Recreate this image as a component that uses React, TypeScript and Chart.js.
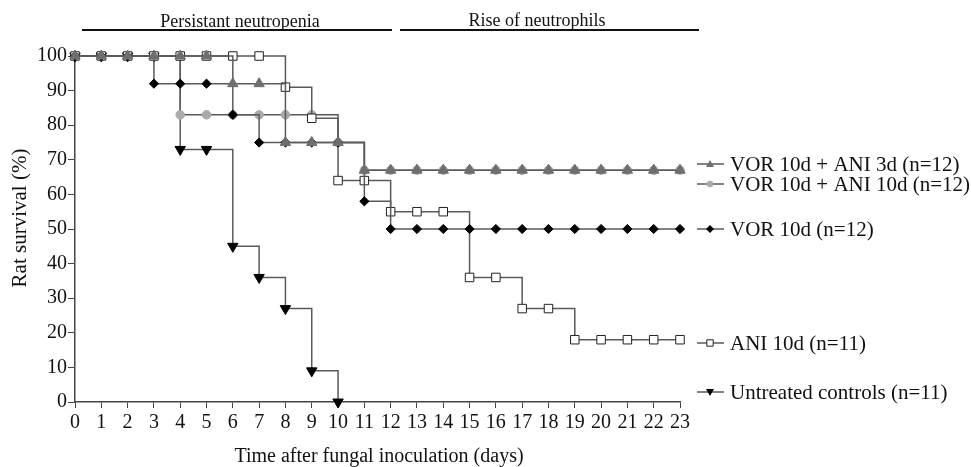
import React, { useEffect, useRef } from 'react';
import { Chart, registerables } from 'chart.js';

Chart.register(...registerables);

const DAYS = [0, 1, 2, 3, 4, 5, 6, 7, 8, 9, 10, 11, 12, 13, 14, 15, 16, 17, 18, 19, 20, 21, 22, 23];
const VOR_ANI3 = [100, 100, 100, 100, 100, 100, 92, 92, 75, 75, 75, 67, 67, 67, 67, 67, 67, 67, 67, 67, 67, 67, 67, 67];
const VOR_ANI10 = [100, 100, 100, 100, 83, 83, 83, 83, 83, 83, 75, 67, 67, 67, 67, 67, 67, 67, 67, 67, 67, 67, 67, 67];
const VOR10 = [100, 100, 100, 92, 92, 92, 83, 75, 75, 75, 75, 58, 50, 50, 50, 50, 50, 50, 50, 50, 50, 50, 50, 50];
const ANI10 = [100, 100, 100, 100, 100, 100, 100, 100, 91, 82, 64, 64, 55, 55, 55, 36, 36, 27, 27, 18, 18, 18, 18, 18];
const UNTREATED = [100, 100, 100, 100, 73, 73, 45, 36, 27, 9, 0];

const LABEL_ANI3 = 'VOR 10d + ANI 3d (n=12)';
const LABEL_ANI10C = 'VOR 10d + ANI 10d (n=12)';
const LABEL_VOR = 'VOR 10d (n=12)';
const LABEL_ANI = 'ANI 10d (n=11)';
const LABEL_UNT = 'Untreated controls (n=11)';

const PHASE1 = 'Persistant neutropenia';
const PHASE2 = 'Rise of neutrophils';
const X_TITLE = 'Time after fungal inoculation (days)';
const Y_TITLE = 'Rat survival (%)';

const FONT = '"Liberation Serif", "Times New Roman", serif';
const LINE = '#5a5a5a';
const TRI_GRAY = '#6e6e6e';
const CIRC_GRAY = '#aaaaaa';

const pts = (arr: number[]) => arr.map((v, i) => ({ x: DAYS[i], y: v }));

function drawMarker(ctx: CanvasRenderingContext2D, kind: string, x: number, y: number, r: number) {
  ctx.beginPath();
  if (kind === 'tri') {
    ctx.moveTo(x, y - r);
    ctx.lineTo(x + r, y + r * 0.75);
    ctx.lineTo(x - r, y + r * 0.75);
    ctx.closePath();
    ctx.fillStyle = TRI_GRAY;
    ctx.fill();
  } else if (kind === 'circ') {
    ctx.arc(x, y, r * 0.8, 0, Math.PI * 2);
    ctx.fillStyle = CIRC_GRAY;
    ctx.fill();
  } else if (kind === 'dia') {
    ctx.moveTo(x, y - r);
    ctx.lineTo(x + r, y);
    ctx.lineTo(x, y + r);
    ctx.lineTo(x - r, y);
    ctx.closePath();
    ctx.fillStyle = '#000';
    ctx.fill();
  } else if (kind === 'sq') {
    ctx.rect(x - r * 0.8, y - r * 0.8, r * 1.6, r * 1.6);
    ctx.fillStyle = '#fff';
    ctx.fill();
    ctx.strokeStyle = '#222';
    ctx.lineWidth = 1;
    ctx.stroke();
  } else if (kind === 'dtri') {
    ctx.moveTo(x, y + r);
    ctx.lineTo(x + r, y - r * 0.75);
    ctx.lineTo(x - r, y - r * 0.75);
    ctx.closePath();
    ctx.fillStyle = '#000';
    ctx.fill();
  }
}

const overlay = {
  id: 'overlay',
  afterDraw(chart: any) {
    const ctx: CanvasRenderingContext2D = chart.ctx;
    ctx.save();
    // phase annotations
    ctx.strokeStyle = '#111';
    ctx.lineWidth = 2;
    ctx.beginPath();
    ctx.moveTo(82, 30);
    ctx.lineTo(392, 30);
    ctx.moveTo(400, 30);
    ctx.lineTo(699, 30);
    ctx.stroke();
    ctx.fillStyle = '#111';
    ctx.font = `18px ${FONT}`;
    ctx.textAlign = 'center';
    ctx.textBaseline = 'alphabetic';
    ctx.fillText(PHASE1, 240, 27);
    ctx.fillText(PHASE2, 537, 26);

    // axis titles
    ctx.font = `20px ${FONT}`;
    ctx.fillText(X_TITLE, 379, 462);
    ctx.font = `21px ${FONT}`;
    ctx.save();
    ctx.translate(26, 218);
    ctx.rotate(-Math.PI / 2);
    ctx.fillText(Y_TITLE, 0, 0);
    ctx.restore();

    // legend
    const items: [string, string, number][] = [
      ['tri', LABEL_ANI3, 164],
      ['circ', LABEL_ANI10C, 184],
      ['dia', LABEL_VOR, 229],
      ['sq', LABEL_ANI, 343],
      ['dtri', LABEL_UNT, 392],
    ];
    ctx.textAlign = 'left';
    ctx.textBaseline = 'middle';
    ctx.font = `21px ${FONT}`;
    for (const [kind, label, y] of items) {
      ctx.strokeStyle = LINE;
      ctx.lineWidth = 1.5;
      ctx.beginPath();
      ctx.moveTo(697, y);
      ctx.lineTo(724, y);
      ctx.stroke();
      drawMarker(ctx, kind, 710, y, 4);
      ctx.fillStyle = '#111';
      ctx.fillText(label, 730, y + 1);
    }
    ctx.restore();
  },
};

export default function App() {
  const ref = useRef<HTMLCanvasElement | null>(null);
  useEffect(() => {
    document.body.style.margin = '0';
    const canvas = ref.current;
    if (!canvas) return;
    const common = {
      borderColor: LINE,
      borderWidth: 1.5,
      stepped: true as const,
      clip: false as const,
      pointBorderWidth: 1,
    };
    const chart = new Chart(canvas, {
      type: 'line',
      data: {
        datasets: [
          {
            ...common,
            label: LABEL_ANI3,
            data: pts(VOR_ANI3),
            pointStyle: 'triangle',
            pointRadius: 6,
            pointBackgroundColor: TRI_GRAY,
            pointBorderColor: TRI_GRAY,
          },
          {
            ...common,
            label: LABEL_VOR,
            data: pts(VOR10),
            pointStyle: 'rectRot',
            pointRadius: 4.6,
            pointBackgroundColor: '#000',
            pointBorderColor: '#000',
          },
          {
            ...common,
            label: LABEL_ANI,
            data: pts(ANI10),
            pointStyle: 'rect',
            pointRadius: 6,
            pointBackgroundColor: '#fff',
            pointBorderColor: '#222',
          },
          {
            ...common,
            label: LABEL_ANI10C,
            data: pts(VOR_ANI10),
            pointStyle: 'circle',
            pointRadius: 4.3,
            pointBackgroundColor: CIRC_GRAY,
            pointBorderColor: CIRC_GRAY,
          },
          {
            ...common,
            label: LABEL_UNT,
            data: pts(UNTREATED),
            pointStyle: 'triangle',
            pointRotation: 180,
            pointRadius: 6,
            pointBackgroundColor: '#000',
            pointBorderColor: '#000',
          },
        ],
      },
      options: {
        responsive: false,
        animation: false,
        layout: { padding: { left: 0, top: 56, right: 291, bottom: 0 } },
        plugins: { legend: { display: false }, tooltip: { enabled: false }, title: { display: false } },
        scales: {
          x: {
            type: 'linear',
            min: 0,
            max: 23,
            afterFit: (s: any) => { s.height = 65; },
            grid: { drawOnChartArea: false, drawTicks: true, tickLength: 6, color: '#444', lineWidth: 1 },
            border: { display: true, color: '#444', width: 1.5 },
            ticks: {
              stepSize: 1,
              autoSkip: false,
              maxRotation: 0,
              padding: 3,
              color: '#111',
              font: { family: FONT, size: 20 },
            },
          },
          y: {
            type: 'linear',
            min: 0,
            max: 100,
            afterFit: (s: any) => { s.width = 75; },
            grid: { drawOnChartArea: false, drawTicks: true, tickLength: 7, color: '#444', lineWidth: 1 },
            border: { display: true, color: '#444', width: 1.5 },
            ticks: {
              stepSize: 10,
              padding: 1,
              color: '#111',
              font: { family: FONT, size: 20 },
            },
          },
        },
      },
      plugins: [overlay],
    } as any);
    return () => chart.destroy();
  }, []);
  return (
    <div style={{ position: 'absolute', left: 0, top: 0, width: 971, height: 467, background: '#fff' }}>
      <canvas ref={ref} width={971} height={467} />
    </div>
  );
}
